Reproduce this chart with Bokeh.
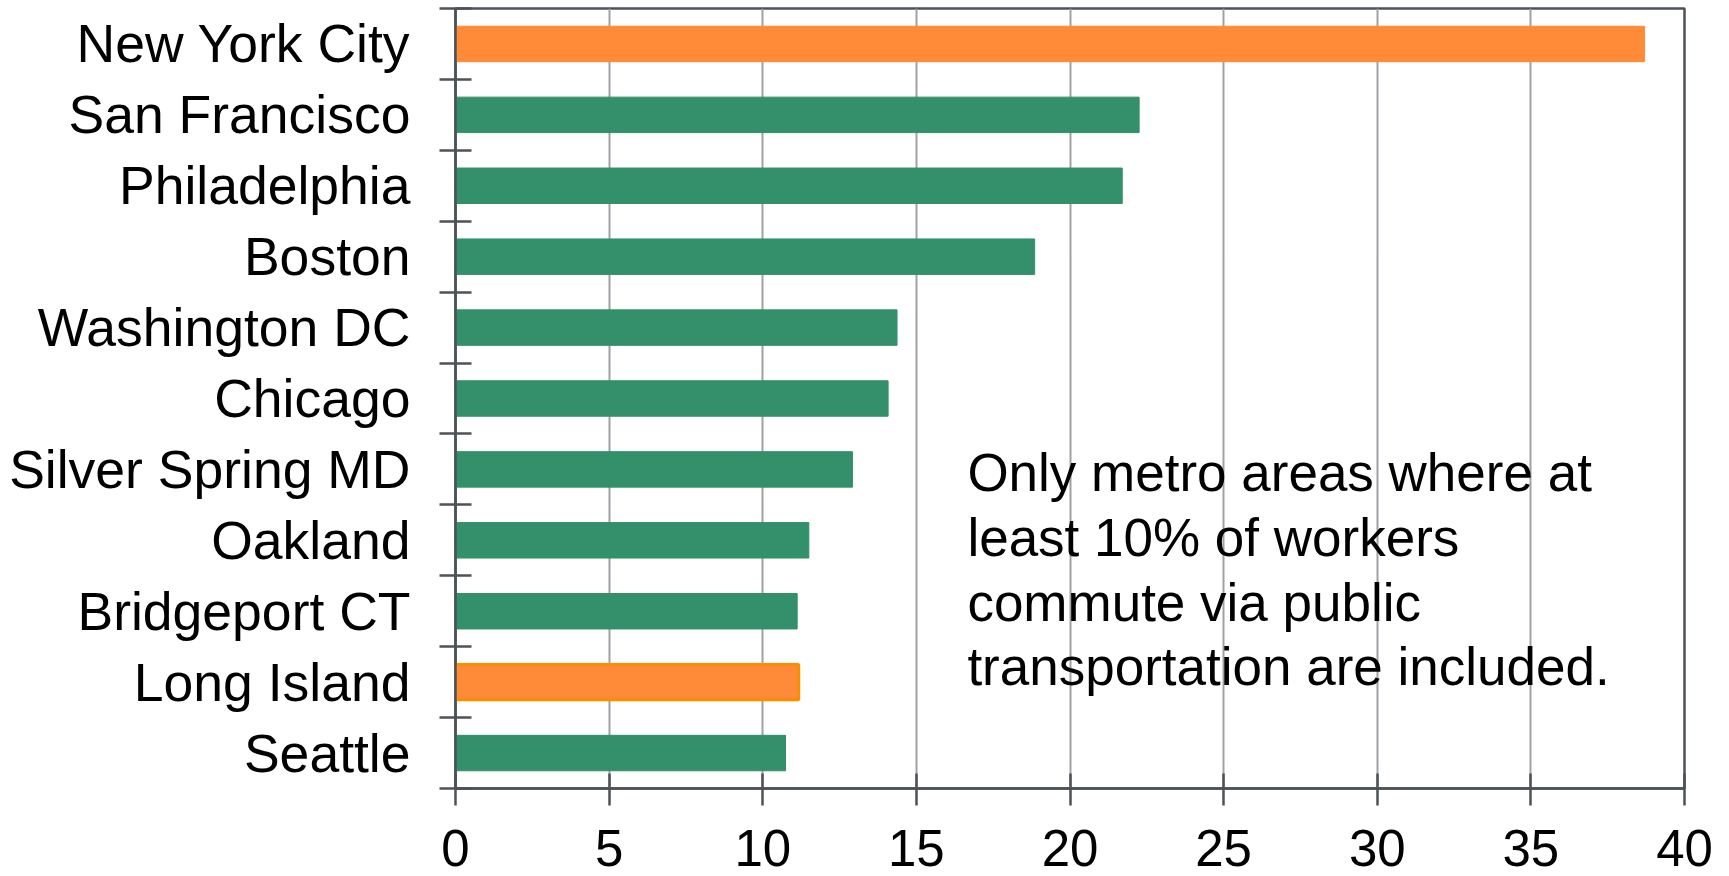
from bokeh.plotting import figure
from bokeh.models import Range1d, FixedTicker, ColumnDataSource
from bokeh.core.properties import value
from bokeh.embed import file_html
from bokeh.resources import INLINE

cities = ["New York City", "San Francisco", "Philadelphia", "Boston", "Washington DC",
          "Chicago", "Silver Spring MD", "Oakland", "Bridgeport CT", "Long Island", "Seattle"]
share = [38.7, 22.25, 21.7, 18.85, 14.37, 14.08, 12.92, 11.5, 11.12, 11.17, 10.74]
highlight = ["New York City", "Long Island"]
x_ticks = [0, 5, 10, 15, 20, 25, 30, 35, 40]
note_lines = ["Only metro areas where at",
              "least 10% of workers",
              "commute via public",
              "transportation are included."]

GREEN = "#33906a"
ORANGE = "#ff8a38"
FONT = "Liberation Sans"

n = len(cities)
ypos = [n - i - 0.5 for i in range(n)]
colors = [ORANGE if c in highlight else GREEN for c in cities]
lcolors = ["#ff8c00" if c == "Long Island" else col for c, col in zip(cities, colors)]
lwidths = [3 if c == "Long Island" else 1 for c in cities]

src = ColumnDataSource(dict(y=ypos, right=share, color=colors, lc=lcolors, lw=lwidths))

p = figure(width=1729, height=876, output_backend="svg", toolbar_location=None,
           x_range=Range1d(0, 40), y_range=Range1d(0, n),
           min_border_left=455, min_border_right=45, min_border_top=8, min_border_bottom=88)

p.hbar(y="y", left=0, right="right", height=0.5, fill_color="color",
       line_color="lc", line_width="lw", source=src)

# x axis
p.xaxis.ticker = FixedTicker(ticks=x_ticks)
p.xaxis.major_label_text_font = FONT
p.xaxis.major_label_text_font_size = "51px"
p.xaxis.major_label_text_color = "#000000"
p.xaxis.axis_line_color = "#4d5257"
p.xaxis.axis_line_width = 2.5
p.xaxis.major_tick_line_color = "#4d5257"
p.xaxis.major_tick_line_width = 2.5
p.xaxis.major_tick_in = 15
p.xaxis.major_tick_out = 17
p.xaxis.minor_tick_line_color = None
p.xaxis.major_label_standoff = 24

# y axis
p.yaxis.ticker = FixedTicker(ticks=ypos, minor_ticks=list(range(n + 1)))
p.yaxis.major_label_overrides = {y: c for y, c in zip(ypos, cities)}
p.yaxis.major_label_text_font = FONT
p.yaxis.major_label_text_font_size = "53.5px"
p.yaxis.major_label_text_color = "#000000"
p.yaxis.axis_line_color = "#4d5257"
p.yaxis.axis_line_width = 2.5
p.yaxis.major_tick_line_color = None
p.yaxis.major_tick_in = 0
p.yaxis.major_tick_out = 0
p.yaxis.minor_tick_line_color = "#4d5257"
p.yaxis.minor_tick_line_width = 2.5
p.yaxis.minor_tick_in = 16
p.yaxis.minor_tick_out = 16
p.yaxis.major_label_standoff = 29

p.xgrid.grid_line_color = "#9ea2a6"
p.xgrid.grid_line_width = 2
p.ygrid.grid_line_color = None

p.outline_line_color = "#4d5257"
p.outline_line_width = 2.5
p.outline_line_alpha = 1
p.background_fill_color = "white"
p.border_fill_color = "white"

# annotation
note_y = [4.46, 3.545, 2.63, 1.715]
p.text(x=[16.66] * 4, y=note_y, text=note_lines, text_font=value(FONT),
       text_font_size="53px", text_baseline="alphabetic", text_align="left",
       text_color="#000000")

open("out.html", "w").write(file_html(p, INLINE))
